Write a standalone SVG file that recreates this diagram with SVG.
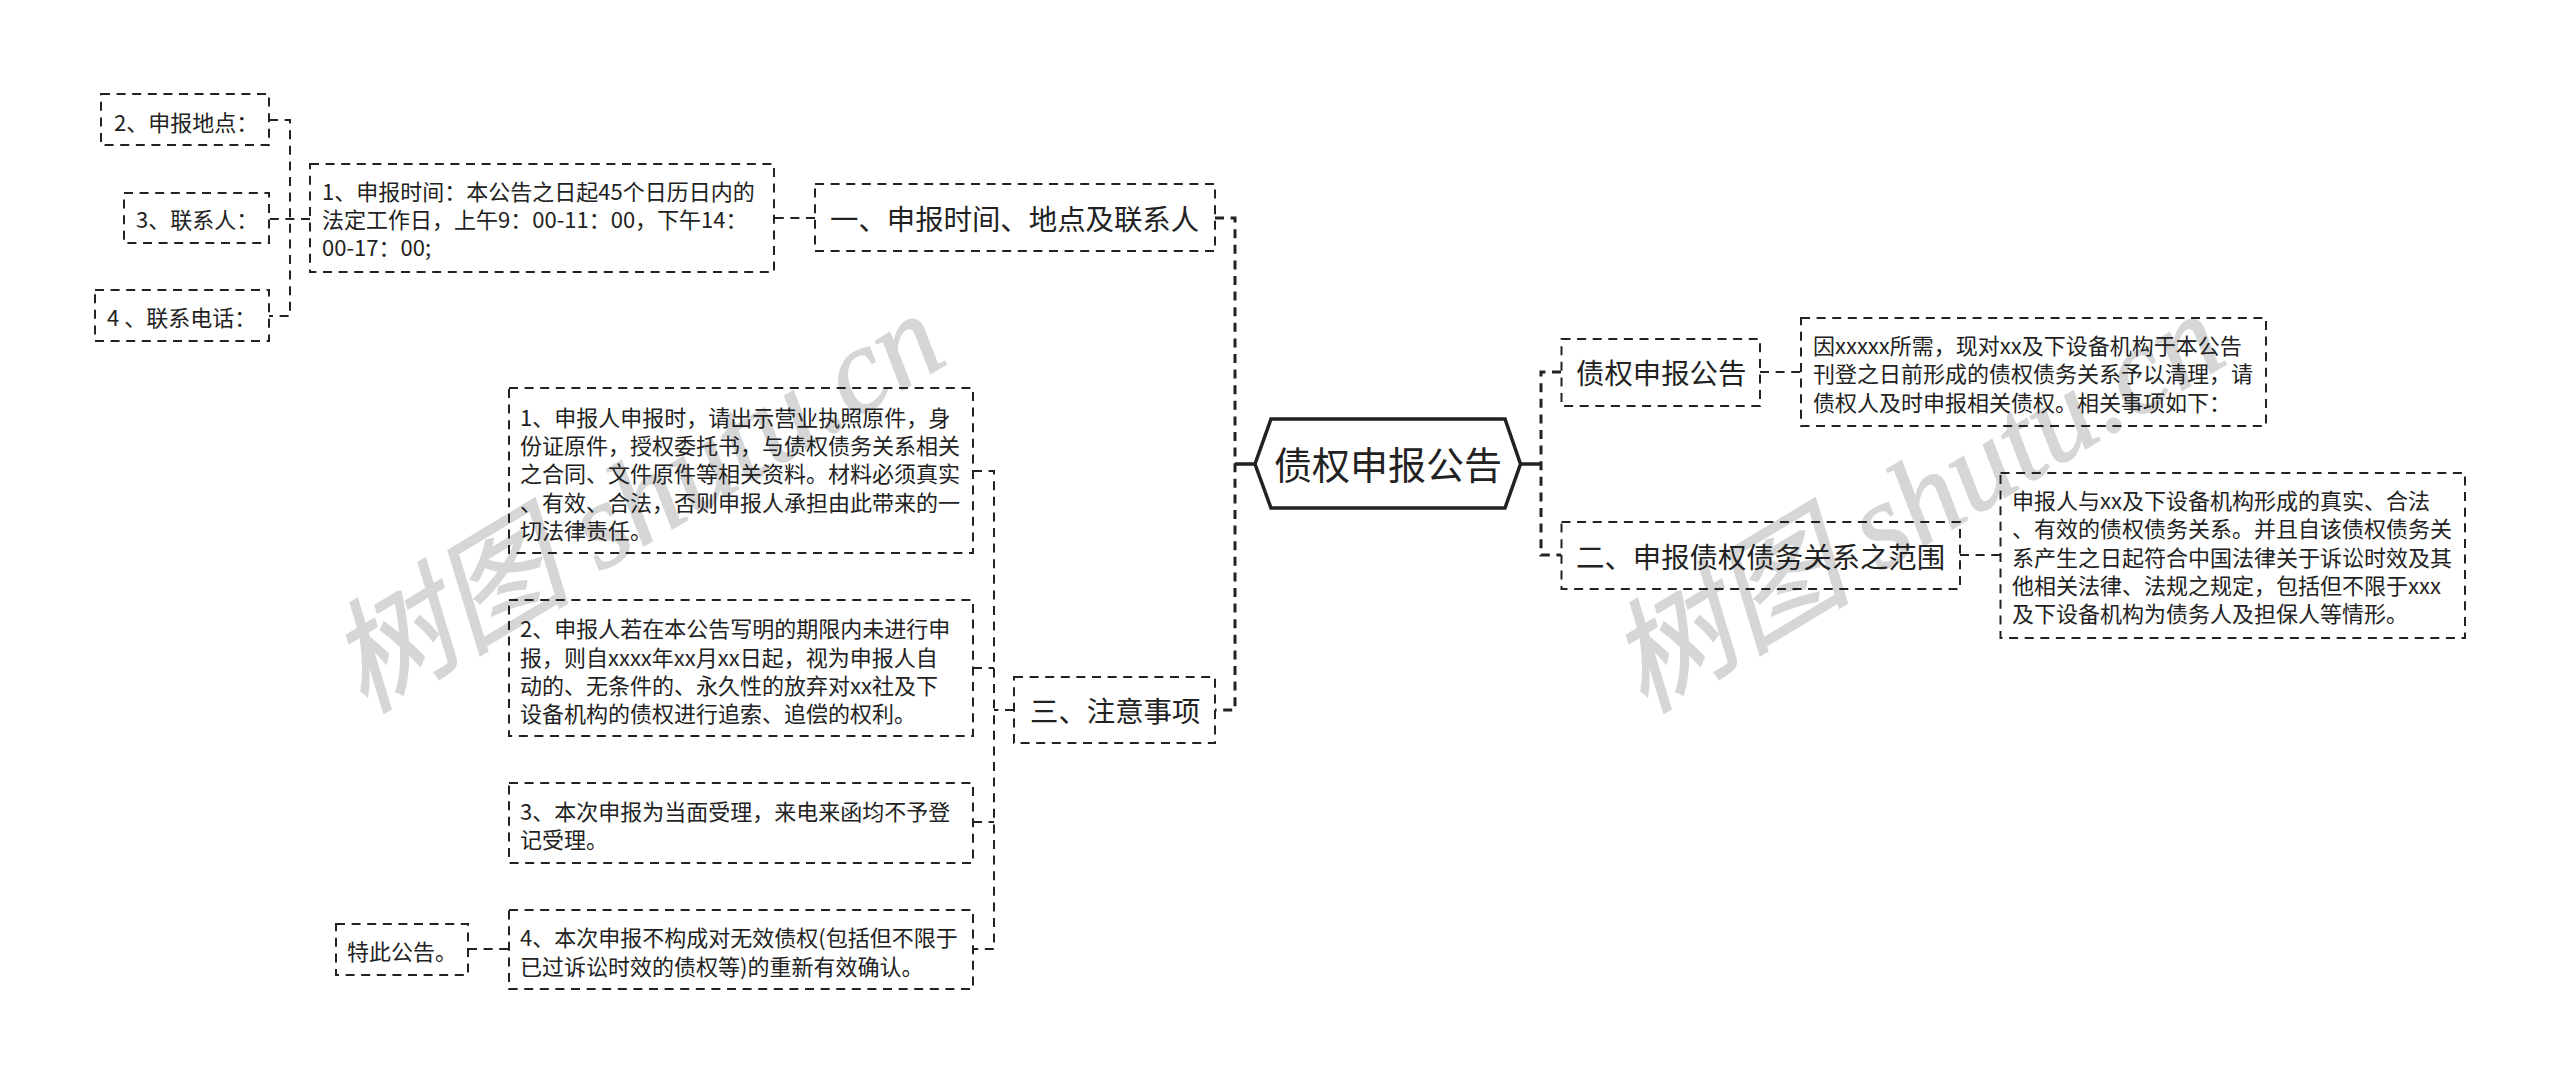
<svg xmlns="http://www.w3.org/2000/svg" width="2560" height="1084" viewBox="0 0 2560 1084">
<style>
text{font-family:"Noto Sans CJK SC","Noto Sans",sans-serif;fill:#222;dominant-baseline:central}
.s{font-size:22px;transform:translateY(-1.5px)}
.m{font-size:28.400px;transform:translateY(-1px)}
.c{font-size:38px;transform:translateY(-1px)}
.box{fill:none;stroke:#222;stroke-width:2;stroke-dasharray:9 6.6}
.ln{fill:none;stroke:#222;stroke-width:2;stroke-dasharray:9 6.6}
.tr{fill:none;stroke:#222;stroke-width:3;stroke-dasharray:9 6.6}
.sol{fill:none;stroke:#222;stroke-width:3.5}
.wm{font-family:"Liberation Serif","Noto Sans CJK SC",serif;font-style:italic;font-size:122px;fill:#d6d6d6;stroke:#d6d6d6;stroke-width:1.500;dominant-baseline:auto}
</style>
<g id="watermark">
<text class="wm" transform="translate(364,714) rotate(-31)">树图 shutu.cn</text>
<text class="wm" transform="translate(1644,714) rotate(-31)">树图 shutu.cn</text>
</g>
<g id="connectors">
<path class="sol" d="M1255 464H1235M1520 464H1541"/>
<path class="tr" d="M1215 218H1235V710H1215"/>
<path class="tr" d="M1561 372H1541V555H1561"/>
<path class="ln" d="M1760 372H1801"/>
<path class="ln" d="M1960 555H2000"/>
<path class="ln" d="M815 218H774"/>
<path class="ln" d="M310 219H269"/>
<path class="ln" d="M269 120H290V316H269"/>
<path class="ln" d="M1014 710H994"/>
<path class="ln" d="M973 471H994V949H973"/>
<path class="ln" d="M973 668H994"/>
<path class="ln" d="M973 822H994"/>
<path class="ln" d="M468 949H509"/>
</g>
<g id="root">
<path d="M1255 464L1271 419H1505L1520.500 464L1505 508H1271Z" fill="#fff" stroke="#222" stroke-width="3.5"/>
<text class="c" x="1274" y="463">债权申报公告</text>
</g>
<g id="n-gonggao">
<rect class="box" x="1561.500" y="339" width="198.500" height="67"/>
<text class="m" x="1576" y="372">债权申报公告</text>
</g>
<g id="n-gonggao-detail">
<rect class="box" x="1801" y="318" width="465" height="108"/>
<text class="s"><tspan x="1813" y="345">因xxxxx所需，现对xx及下设备机构于本公告</tspan><tspan x="1813" y="373">刊登之日前形成的债权债务关系予以清理，请</tspan><tspan x="1813" y="402">债权人及时申报相关债权。相关事项如下：</tspan></text>
</g>
<g id="n-fanwei">
<rect class="box" x="1561.500" y="522" width="398.500" height="67"/>
<text class="m" x="1576" y="556">二、申报债权债务关系之范围</text>
</g>
<g id="n-fanwei-detail">
<rect class="box" x="2000.500" y="473" width="464.500" height="165"/>
<text class="s"><tspan x="2012" y="500">申报人与xx及下设备机构形成的真实、合法</tspan><tspan x="2012" y="528">、有效的债权债务关系。并且自该债权债务关</tspan><tspan x="2012" y="557">系产生之日起符合中国法律关于诉讼时效及其</tspan><tspan x="2012" y="585">他相关法律、法规之规定，包括但不限于xxx</tspan><tspan x="2012" y="613">及下设备机构为债务人及担保人等情形。</tspan></text>
</g>
<g id="n-shenbao">
<rect class="box" x="815" y="184" width="400" height="67"/>
<text class="m" x="830" y="218">一、申报时间、地点及联系人</text>
</g>
<g id="n-time">
<rect class="box" x="310" y="164" width="464" height="108"/>
<text class="s"><tspan x="322" y="191">1、申报时间：本公告之日起45个日历日内的</tspan><tspan x="322" y="219">法定工作日，上午9：00-11：00，下午14：</tspan><tspan x="322" y="247">00-17：00;</tspan></text>
</g>
<g id="n-place">
<rect class="box" x="101" y="94" width="168" height="51"/>
<text class="s" x="114" y="122">2、申报地点：</text>
</g>
<g id="n-contact">
<rect class="box" x="124" y="193" width="145" height="50"/>
<text class="s" x="136" y="219">3、联系人：</text>
</g>
<g id="n-phone">
<rect class="box" x="95" y="290" width="174" height="51"/>
<text class="s" x="107" y="317">4 、联系电话：</text>
</g>
<g id="n-notice">
<rect class="box" x="1014" y="677" width="201" height="66"/>
<text class="m" x="1030" y="710">三、注意事项</text>
</g>
<g id="n-note1">
<rect class="box" x="509" y="388" width="464" height="165"/>
<text class="s"><tspan x="520" y="417">1、申报人申报时，请出示营业执照原件，身</tspan><tspan x="520" y="445">份证原件，授权委托书，与债权债务关系相关</tspan><tspan x="520" y="473">之合同、文件原件等相关资料。材料必须真实</tspan><tspan x="520" y="502">、有效、合法，否则申报人承担由此带来的一</tspan><tspan x="520" y="530">切法律责任。</tspan></text>
</g>
<g id="n-note2">
<rect class="box" x="509" y="600" width="464" height="136"/>
<text class="s"><tspan x="520" y="628">2、申报人若在本公告写明的期限内未进行申</tspan><tspan x="520" y="657">报，则自xxxx年xx月xx日起，视为申报人自</tspan><tspan x="520" y="685">动的、无条件的、永久性的放弃对xx社及下</tspan><tspan x="520" y="713">设备机构的债权进行追索、追偿的权利。</tspan></text>
</g>
<g id="n-note3">
<rect class="box" x="509" y="783" width="464" height="80"/>
<text class="s"><tspan x="520" y="811">3、本次申报为当面受理，来电来函均不予登</tspan><tspan x="520" y="839">记受理。</tspan></text>
</g>
<g id="n-note4">
<rect class="box" x="509" y="910" width="464" height="79"/>
<text class="s"><tspan x="520" y="937">4、本次申报不构成对无效债权(包括但不限于</tspan><tspan x="520" y="966">已过诉讼时效的债权等)的重新有效确认。</tspan></text>
</g>
<g id="n-end">
<rect class="box" x="336" y="924" width="132" height="51"/>
<text class="s" x="347" y="951">特此公告。</text>
</g>
</svg>
